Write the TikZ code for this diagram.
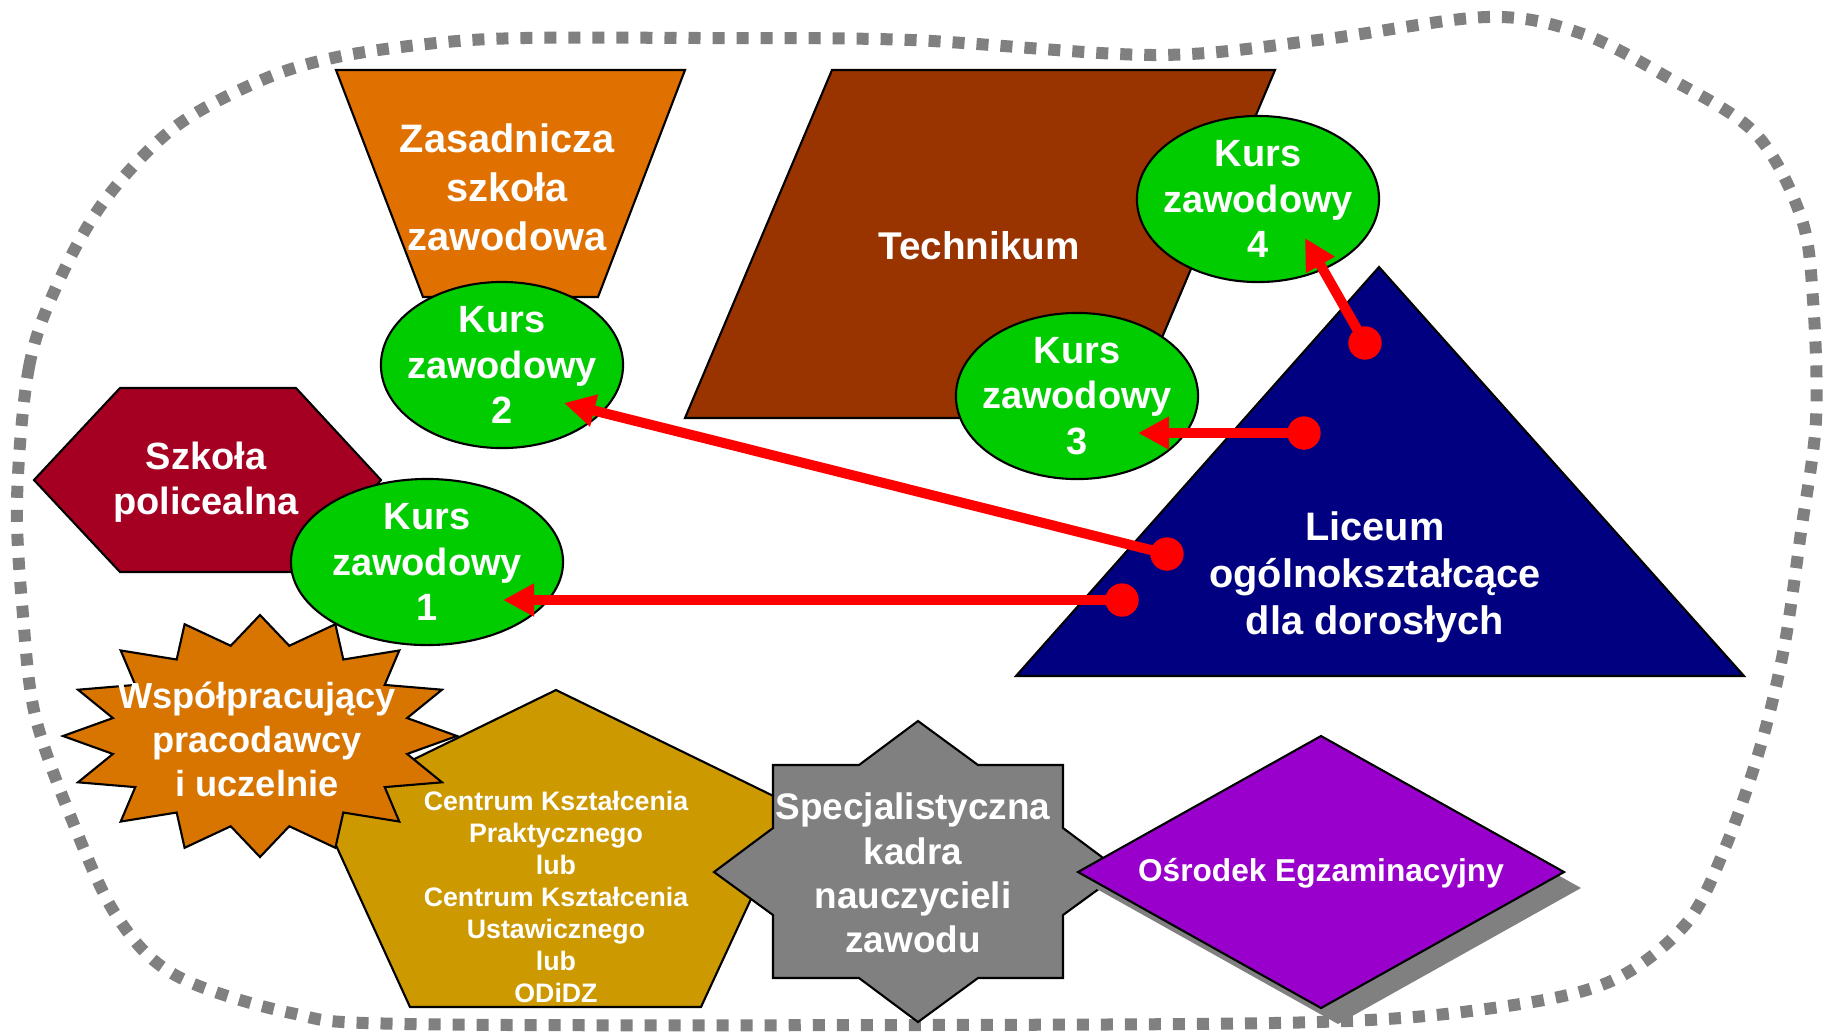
\documentclass[tikz,border=0pt]{standalone}
\usepackage{fontspec}
\setmainfont{Liberation Sans}
\usetikzlibrary{shapes.geometric,arrows.meta}

\definecolor{zszorange}{HTML}{E07000}
\definecolor{techbrown}{HTML}{993300}
\definecolor{kursgreen}{HTML}{00CC00}
\definecolor{lonavy}{HTML}{000080}
\definecolor{policered}{HTML}{A50021}
\definecolor{burstorange}{HTML}{D87400}
\definecolor{ckpgold}{HTML}{CC9900}
\definecolor{kadragray}{HTML}{808080}
\definecolor{okepurple}{HTML}{9900CC}

\tikzset{
  outline/.style={draw=black, line width=0.6pt},
  txt/.style={text=white, align=center, inner sep=0pt, font=\fontsize{10.8}{12.9}\selectfont\bfseries},
  kurs/.style={ellipse, outline, fill=kursgreen, txt, inner sep=-0.15cm, minimum width=2.42cm, minimum height=1.66cm},
  link/.style={red, line width=0.1cm, -{Triangle[length=0.31cm,width=0.31cm]}},
  dot/.style={circle, fill=red, inner sep=0pt, minimum size=0.33cm},
  rim/.style={draw=kadragray, line width=0.12cm, dash pattern=on 0.12cm off 0.12cm},
}

\begin{document}
\begin{tikzpicture}[x=0.01cm, y=-0.01cm]
        \path[use as bounding box] (0,0) rectangle (1823,1035);

        \draw[rim] plot[smooth cycle, tension=0.55] coordinates {
          (17,500) (29,367) (58,283) (105,200) (175,127) (262,80) (337,57)
          (436,43) (524,38) (700,38) (911,40) (1155,55) (1318,40) (1487,17)
          (1580,33) (1667,77) (1755,133) (1801,217) (1813,300) (1816,420)
          (1801,532) (1784,648) (1760,748) (1725,848) (1685,925) (1609,982)
          (1493,1008) (1318,1022) (911,1025) (407,1024) (291,1013) (175,975)
          (116,915) (70,815) (35,715) (23,615)};

        \draw[outline, fill=zszorange] (336,70) -- (685,70) -- (598,297) -- (423,297) -- cycle;
        \draw[outline, fill=techbrown] (832,70) -- (1275,70) -- (1128,418) -- (685,418) -- cycle;
        \draw[outline, fill=lonavy] (1379,267) -- (1744,676) -- (1016,676) -- cycle;
        \draw[outline, fill=policered] (120,388) -- (296,388) -- (381,480) -- (296,572) -- (120,572) -- (34,480) -- cycle;
        \draw[outline, fill=ckpgold] (556,690) -- (794,806) -- (701,1007) -- (410,1007) -- (318,806) -- cycle;
        \draw[outline, fill=burstorange, shift={(260,736)}] (90:197 and 121)
          \foreach \a in {0,...,15} { -- ({101.25+22.5*\a}:150 and 92) -- ({112.5+22.5*\a}:197 and 121) } -- cycle;
        \draw[outline, fill=kadragray] (918,721) -- (978,765) -- (1063,765) -- (1063,828) -- (1122,872)
          -- (1063,915) -- (1063,978) -- (978,978) -- (918,1022) -- (859,978) -- (773,978)
          -- (773,915) -- (714,872) -- (773,828) -- (773,765) -- (859,765) -- cycle;
        \fill[kadragray] (1338,752) -- (1581,888) -- (1338,1024) -- (1095,888) -- cycle;
        \draw[outline, fill=okepurple] (1321,736) -- (1564,872) -- (1321,1008) -- (1078,872) -- cycle;

        \node[txt, font=\fontsize{11.3}{13.9}\selectfont\bfseries] (zsz) at (507,187) {Zasadnicza\\szkoła\\zawodowa};
        \node[txt, font=\fontsize{11}{13}\selectfont\bfseries] (tech) at (979,246) {Technikum};
        \node[txt, font=\fontsize{11.3}{13.3}\selectfont\bfseries] (lo) at (1375,577) {Liceum\\ogólnokształcące\\dla dorosłych};
        \node[txt] (sp) at (206,482) {Szkoła\\policealna};
        \node[txt, font=\fontsize{10.3}{12.5}\selectfont\bfseries] (prac) at (257,739) {Współpracujący\\pracodawcy\\i uczelnie};
        \node[txt, font=\fontsize{7.6}{9.1}\selectfont\bfseries] (ckp) at (556,897) {Centrum Kształcenia\\Praktycznego\\lub\\Centrum Kształcenia\\Ustawicznego\\lub\\ODiDZ};
        \node[txt, font=\fontsize{10.5}{12.6}\selectfont\bfseries] (kadra) at (913,873) {Specjalistyczna\\kadra\\nauczycieli\\zawodu};
        \node[txt, font=\fontsize{9}{11}\selectfont\bfseries] (oke) at (1321,873) {Ośrodek Egzaminacyjny};

        \node[kurs, minimum width=2.72cm] (k1) at (427,562) {Kurs\\zawodowy\\1};
        \node[kurs] (k2) at (502,365) {Kurs\\zawodowy\\2};
        \node[kurs] (k3) at (1077,396) {Kurs\\zawodowy\\3};
        \node[kurs] (k4) at (1258,199) {Kurs\\zawodowy\\4};

        \coordinate (t1) at (503,600);
        \coordinate (t2) at (564,403);
        \coordinate (t3) at (1138,433);
        \coordinate (t4) at (1305,238);

        \node[dot] (d1) at (1122,600) {};
        \node[dot] (d2) at (1167,554) {};
        \node[dot] (d3) at (1304,433) {};
        \node[dot] (d4) at (1365,343) {};

        \draw[link] (d1.center) -- (t1);
        \draw[link] (d2.center) -- (t2);
        \draw[link] (d3.center) -- (t3);
        \draw[link] (d4.center) -- (t4);
        \foreach \d in {d1,d2,d3,d4}
          \fill[red] (\d) circle[radius=0.165cm];
      \end{tikzpicture}
\end{document}
